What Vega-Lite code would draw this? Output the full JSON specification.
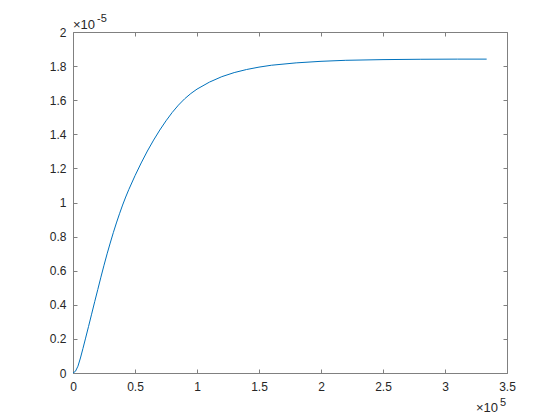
{
  "$schema": "https://vega.github.io/schema/vega-lite/v6.json",
  "width": 434,
  "height": 341,
  "autosize": {"type": "none"},
  "padding": {"left": 73, "top": 32, "right": 53, "bottom": 47},
  "background": "white",
  "config": {
    "view": {"stroke": null},
    "font": "Liberation Sans",
    "axis": {
      "grid": false,
      "title": null,
      "domainColor": "#808080",
      "domainWidth": 1,
      "tickColor": "#808080",
      "tickWidth": 1,
      "tickSize": -4,
      "labelColor": "#262626",
      "labelFont": "Liberation Sans",
      "labelFontSize": 12,
      "labelFlush": false,
      "labelOverlap": false
    }
  },
  "datasets": {
    "curve": [
      {"x": 0, "y": 0},
      {"x": 0.02, "y": 0.01},
      {"x": 0.04, "y": 0.04},
      {"x": 0.06, "y": 0.088},
      {"x": 0.08, "y": 0.143},
      {"x": 0.1, "y": 0.2},
      {"x": 0.125, "y": 0.272},
      {"x": 0.15, "y": 0.345},
      {"x": 0.175, "y": 0.418},
      {"x": 0.2, "y": 0.49},
      {"x": 0.225, "y": 0.562},
      {"x": 0.25, "y": 0.632},
      {"x": 0.275, "y": 0.699},
      {"x": 0.3, "y": 0.762},
      {"x": 0.325, "y": 0.823},
      {"x": 0.35, "y": 0.88},
      {"x": 0.375, "y": 0.934},
      {"x": 0.4, "y": 0.985},
      {"x": 0.425, "y": 1.032},
      {"x": 0.45, "y": 1.076},
      {"x": 0.5, "y": 1.157},
      {"x": 0.55, "y": 1.232},
      {"x": 0.6, "y": 1.302},
      {"x": 0.65, "y": 1.366},
      {"x": 0.7, "y": 1.425},
      {"x": 0.75, "y": 1.479},
      {"x": 0.8, "y": 1.528},
      {"x": 0.85, "y": 1.571},
      {"x": 0.9, "y": 1.608},
      {"x": 0.95, "y": 1.639},
      {"x": 1.0, "y": 1.665},
      {"x": 1.1, "y": 1.706},
      {"x": 1.2, "y": 1.738},
      {"x": 1.3, "y": 1.762},
      {"x": 1.4, "y": 1.78},
      {"x": 1.5, "y": 1.794},
      {"x": 1.6, "y": 1.805},
      {"x": 1.8, "y": 1.819},
      {"x": 2.0, "y": 1.828},
      {"x": 2.2, "y": 1.834},
      {"x": 2.5, "y": 1.838},
      {"x": 2.8, "y": 1.84},
      {"x": 3.1, "y": 1.841},
      {"x": 3.336, "y": 1.841}
    ],
    "one": [{}]
  },
  "layer": [
    {
      "data": {"name": "curve"},
      "mark": {"type": "line", "color": "#0072BD", "strokeWidth": 1},
      "encoding": {
        "x": {
          "field": "x", "type": "quantitative",
          "scale": {"domain": [0, 3.5], "nice": false, "zero": false},
          "axis": {"orient": "bottom", "values": [0, 0.5, 1, 1.5, 2, 2.5, 3, 3.5], "format": "~g", "labelPadding": 12}
        },
        "y": {
          "field": "y", "type": "quantitative",
          "scale": {"domain": [0, 2], "nice": false, "zero": false},
          "axis": {"orient": "left", "values": [0, 0.2, 0.4, 0.6, 0.8, 1, 1.2, 1.4, 1.6, 1.8, 2], "format": "~g", "labelPadding": 11}
        }
      }
    },
    {
      "data": {"name": "curve"},
      "mark": {"type": "line", "opacity": 0},
      "encoding": {
        "x": {
          "field": "x", "type": "quantitative",
          "axis": {"orient": "top", "values": [0, 0.5, 1, 1.5, 2, 2.5, 3, 3.5], "labels": false}
        },
        "y": {
          "field": "y", "type": "quantitative",
          "axis": {"orient": "right", "values": [0, 0.2, 0.4, 0.6, 0.8, 1, 1.2, 1.4, 1.6, 1.8, 2], "labels": false}
        }
      }
    },
    {
      "data": {"name": "one"},
      "mark": {"type": "text", "text": "×10", "align": "left", "baseline": "alphabetic", "dy": -3, "fontSize": 13, "color": "#262626", "font": "Liberation Sans"},
      "encoding": {"x": {"datum": 0, "axis": null}, "y": {"datum": 2, "axis": null}}
    },
    {
      "data": {"name": "one"},
      "mark": {"type": "text", "text": "-5", "align": "left", "baseline": "alphabetic", "dx": 24, "dy": -10, "fontSize": 11, "color": "#262626", "font": "Liberation Sans"},
      "encoding": {"x": {"datum": 0, "axis": null}, "y": {"datum": 2, "axis": null}}
    },
    {
      "data": {"name": "one"},
      "mark": {"type": "text", "text": "×10", "align": "right", "baseline": "alphabetic", "dx": -9, "dy": 39, "fontSize": 13, "color": "#262626", "font": "Liberation Sans"},
      "encoding": {"x": {"datum": 3.5, "axis": null}, "y": {"datum": 0, "axis": null}}
    },
    {
      "data": {"name": "one"},
      "mark": {"type": "text", "text": "5", "align": "right", "baseline": "alphabetic", "dx": -1, "dy": 33, "fontSize": 11, "color": "#262626", "font": "Liberation Sans"},
      "encoding": {"x": {"datum": 3.5, "axis": null}, "y": {"datum": 0, "axis": null}}
    }
  ],
  "resolve": {"axis": {"x": "independent", "y": "independent"}}
}
